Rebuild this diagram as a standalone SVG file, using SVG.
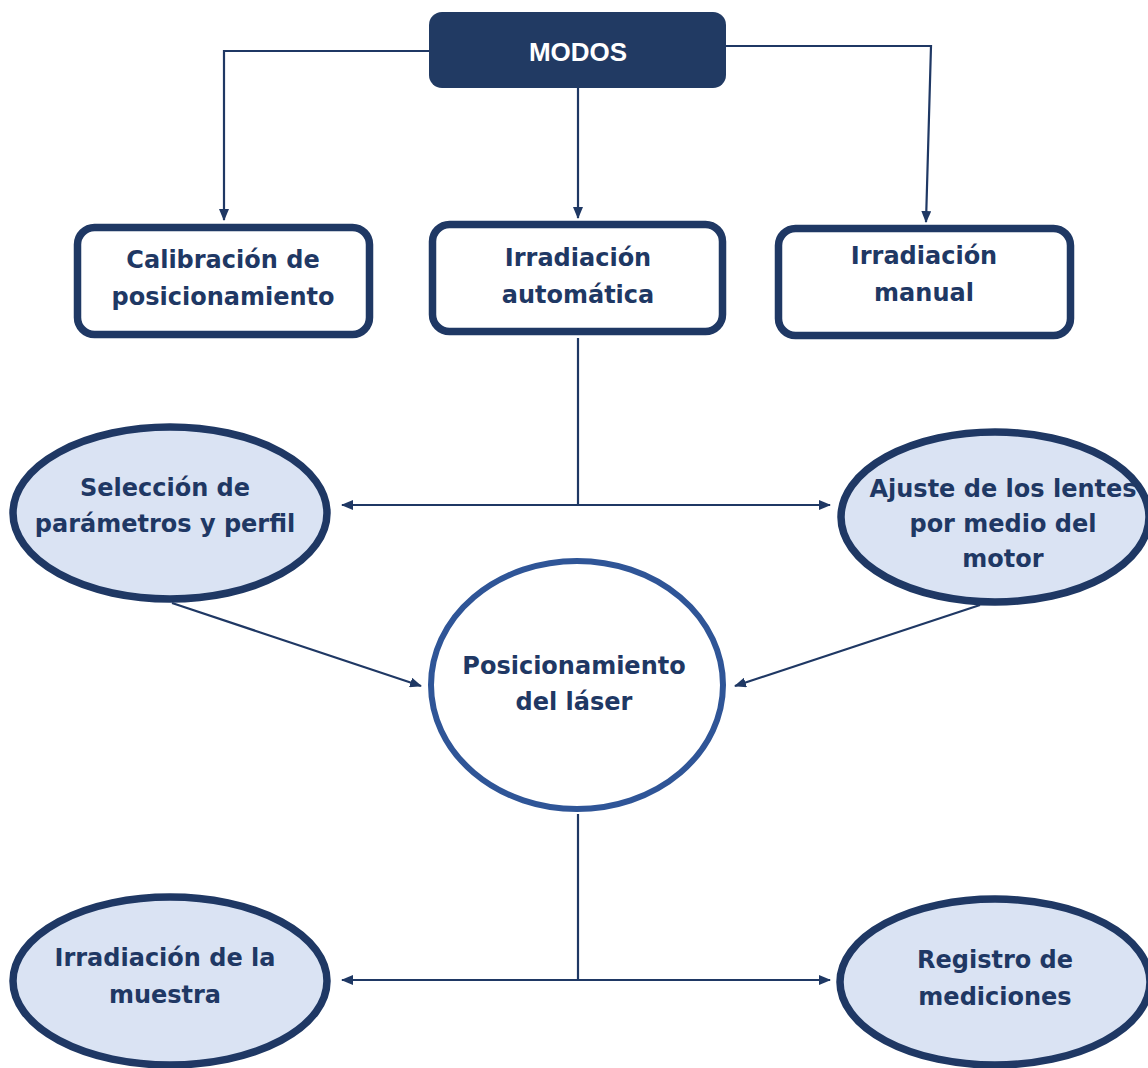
<svg xmlns="http://www.w3.org/2000/svg" width="1148" height="1068" viewBox="0 0 1148 1068">
<style>
.t{font-family:"DejaVu Sans","Liberation Sans",sans-serif;font-weight:bold;font-size:24px;fill:#1f3864;text-anchor:middle}
.box{fill:#ffffff;stroke:#1f3864;stroke-width:7.5}
.ell{fill:#dae3f3;stroke:#1f3864;stroke-width:7.5}
.con{fill:none;stroke:#1f3864;stroke-width:2.2}
</style>
<defs>
<marker id="ah" markerUnits="userSpaceOnUse" markerWidth="12" markerHeight="10" refX="11" refY="5" orient="auto-start-reverse">
<path d="M0,0 L12,5 L0,10 z" fill="#1f3864"/>
</marker>
</defs>
<g id="connectors">
<path class="con" d="M430,51 H224 V220" marker-end="url(#ah)"/>
<path class="con" d="M578,88 V218" marker-end="url(#ah)"/>
<path class="con" d="M726,46 H931 L926,222" marker-end="url(#ah)"/>
<path class="con" d="M578,338 V505"/>
<path class="con" d="M342,505 H830" marker-start="url(#ah)" marker-end="url(#ah)"/>
<path class="con" d="M172,603 L421,686" marker-end="url(#ah)"/>
<path class="con" d="M980,605 L735,686" marker-end="url(#ah)"/>
<path class="con" d="M578,814 V980"/>
<path class="con" d="M342,980 H830" marker-start="url(#ah)" marker-end="url(#ah)"/>
</g>
<g id="modos">
<rect x="429" y="12" width="297" height="76" rx="13" fill="#213a63"/>
<text x="578" y="61" style="font-family:'Liberation Sans',Arial,sans-serif;font-weight:bold;font-size:26px;fill:#ffffff;text-anchor:middle">MODOS</text>
</g>
<g id="calibracion">
<rect class="box" x="77.5" y="227.5" width="292" height="107" rx="17"/>
<text class="t" x="223" y="268">Calibración de</text>
<text class="t" x="223" y="305">posicionamiento</text>
</g>
<g id="irr-automatica">
<rect class="box" x="432.5" y="224.5" width="290" height="107" rx="17"/>
<text class="t" x="578" y="266">Irradiación</text>
<text class="t" x="578" y="303">automática</text>
</g>
<g id="irr-manual">
<rect class="box" x="778.5" y="228.5" width="292" height="107" rx="17"/>
<text class="t" x="924" y="264">Irradiación</text>
<text class="t" x="924" y="301">manual</text>
</g>
<g id="seleccion">
<ellipse class="ell" cx="170" cy="513" rx="157" ry="86"/>
<text class="t" x="165" y="496">Selección de</text>
<text class="t" x="165" y="532">parámetros y perfil</text>
</g>
<g id="ajuste">
<ellipse class="ell" cx="995" cy="517" rx="154" ry="85"/>
<text class="t" x="1003" y="497">Ajuste de los lentes</text>
<text class="t" x="1003" y="532">por medio del</text>
<text class="t" x="1003" y="567">motor</text>
</g>
<g id="posicionamiento">
<ellipse cx="577" cy="685" rx="146" ry="124" fill="#ffffff" stroke="#2f5597" stroke-width="6"/>
<text class="t" x="574" y="674">Posicionamiento</text>
<text class="t" x="574" y="710">del láser</text>
</g>
<g id="irr-muestra">
<ellipse class="ell" cx="170" cy="981" rx="157" ry="84"/>
<text class="t" x="165" y="966">Irradiación de la</text>
<text class="t" x="165" y="1003">muestra</text>
</g>
<g id="registro">
<ellipse class="ell" cx="995" cy="982" rx="155" ry="83"/>
<text class="t" x="995" y="968">Registro de</text>
<text class="t" x="995" y="1005">mediciones</text>
</g>
</svg>
